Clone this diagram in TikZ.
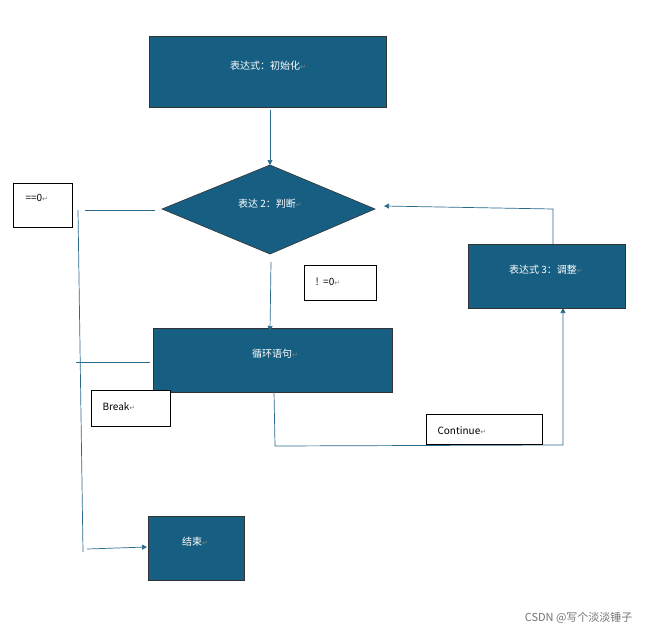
\documentclass[tikz,border=0pt]{standalone}
\usepackage{fontspec}
\setmainfont{Noto Sans CJK SC}
\newfontfamily\symf{DejaVu Sans}
\usetikzlibrary{arrows.meta}
\definecolor{bf}{HTML}{175F82}
\definecolor{ln}{HTML}{2A6A8C}
\newcommand{\rt}{{\symf\color{gray}\fontsize{7}{7}\selectfont ↵}}
\begin{document}
\begin{tikzpicture}[x=1pt,y=-1pt,
  blk/.style={draw=black!80,fill=bf,line width=0.6pt},
  lbl/.style={draw=black,fill=white,line width=0.6pt},
  wt/.style={text=white,font=\fontsize{10}{12}\selectfont},
  bt/.style={text=black,font=\fontsize{10}{12}\selectfont},
  ln/.style={draw=ln,line width=0.7pt},
  arr/.style={ln,-{Triangle[length=5pt,width=5pt]}}]
\useasboundingbox (0,0) rectangle (650,637);
% boxes
\draw[blk] (149,36) rectangle (386,107);
\node[wt] (t1) at (268,66) {表达式：初始化\rt};
\draw[blk] (162,209) -- (270,165) -- (375,209) -- (270,254) -- cycle;
\node[wt] (t2) at (270,204) {表达 2：判断\rt};
\draw[blk] (153,328) rectangle (392,392);
\node[wt] (t3) at (275,354) {循环语句\rt};
\draw[blk] (468,244) rectangle (625,308);
\node[wt] (t4) at (546,270) {表达式 3：调整\rt};
\draw[blk] (148,516) rectangle (244,580);
\node[wt] (t5) at (195,542) {结束\rt};
% connectors
\coordinate (a1) at (270,110); \coordinate (a2) at (270,165);
\draw[arr] (a1) -- (a2);
\coordinate (b1) at (271,262); \coordinate (b2) at (270,331);
\draw[arr] (b1) -- (b2);
\coordinate (c1) at (155,210); \coordinate (c2) at (85,210);
\draw[ln] (c1) -- (c2);
\coordinate (d1) at (78,210); \coordinate (d2) at (83,552);
\draw[ln] (d1) -- (d2);
\coordinate (e1) at (150,362); \coordinate (e2) at (76,362);
\draw[ln] (e1) -- (e2);
\coordinate (f1) at (87,549); \coordinate (f2) at (147,547);
\draw[arr] (f1) -- (f2);
\coordinate (g1) at (274,392); \coordinate (g2) at (275,446); \coordinate (g3) at (563,445); \coordinate (g4) at (563,308);
\draw[arr] (g1) -- (g2) -- (g3) -- (g4);
\coordinate (h1) at (553,244); \coordinate (h2) at (553,209); \coordinate (h3) at (384,206);
\draw[arr] (h1) -- (h2) -- (h3);
% labels
\draw[lbl] (13,183) rectangle (72,227);
\node[bt,anchor=west] (l1) at (22,198) {==0\rt};
\draw[lbl] (304,265) rectangle (376,300);
\node[bt,anchor=west] (l2) at (312,282) {!\ \ =0\rt};
\draw[lbl] (91,390) rectangle (170,426);
\node[bt,anchor=west] (l3) at (99,407) {Break\rt};
\draw[lbl] (426,414) rectangle (542,444);
\node[bt,anchor=west] (l4) at (434,431) {Continue\rt};
\node[text=black!55,font=\fontsize{11}{13}\selectfont,anchor=east] (wm) at (636,618) {CSDN @写个淡淡锤子};
\end{tikzpicture}
\end{document}
